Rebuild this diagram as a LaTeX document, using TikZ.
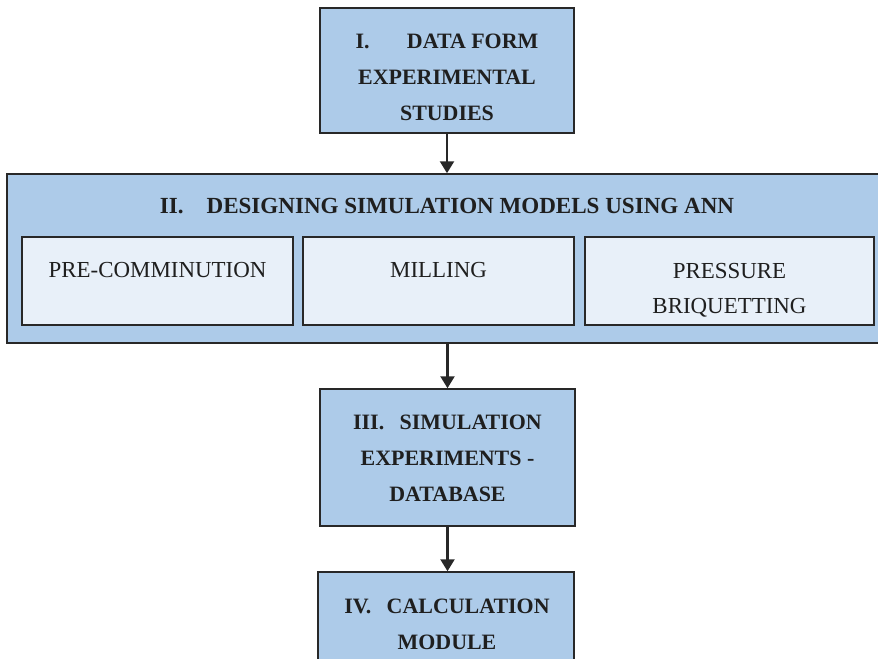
\documentclass[tikz,border=0pt]{standalone}
\usepackage{fontspec}
\setmainfont{Liberation Serif}
\usetikzlibrary{arrows.meta}

\definecolor{boxblue}{RGB}{173,203,233}
\definecolor{subblue}{RGB}{232,240,249}
\definecolor{edgegray}{RGB}{40,40,40}

\tikzset{
  stage/.style={draw=edgegray, line width=1.1pt, fill=boxblue, inner sep=0pt},
  substage/.style={draw=edgegray, line width=1.1pt, fill=subblue, inner sep=0pt, minimum height=2.2cm},
  stagetext/.style={align=center, inner sep=0pt, text=black!88, font=\fontsize{15.6}{25.6}\selectfont\bfseries},
  subtext/.style={align=center, inner sep=0pt, text=black!88, font=\fontsize{16.3}{24.9}\selectfont},
  flow/.style={-{Triangle[width=10pt,length=8.5pt]}, line width=1.5pt, draw=edgegray}
}

\begin{document}
\begin{tikzpicture}[x=0.025cm, y=-0.025cm]
    \useasboundingbox (0,0) rectangle (878,658);
    \clip (0,0) rectangle (878,658);

    % Stage I
    \node[stage, minimum width=6.35cm, minimum height=3.125cm] (data) at (447,70.5) {};
    \node[stagetext] (dataT) at (447,77) {I.\hspace{1.7em}DATA FORM\\EXPERIMENTAL\\STUDIES};

    % Stage II with its three sub-models
    \node[stage, minimum width=22.5cm, minimum height=4.225cm] (design) at (457,258.5) {};
    \node[stagetext, font=\fontsize{16.4}{25}\selectfont\bfseries] (designT) at (447,206)
        {II.\hspace{1em}DESIGNING SIMULATION MODELS USING ANN};
    \node[substage, minimum width=6.775cm] (precom) at (157.5,281) {};
    \node[substage, minimum width=6.775cm] (mill) at (438.5,281) {};
    \node[substage, minimum width=7.225cm] (brik) at (729.5,281) {};
    \node[subtext] (precomT) at (157.5,270) {PRE-COMMINUTION};
    \node[subtext] (millT) at (438.5,270) {MILLING};
    \node[subtext] (brikT) at (729.5,290) {PRESSURE\\BRIQUETTING};

    % Stages III and IV
    \node[stage, minimum width=6.375cm, minimum height=3.425cm] (sim) at (447.5,457.5) {};
    \node[stagetext] (simT) at (447.5,458) {III.\hspace{0.7em}SIMULATION\\EXPERIMENTS -\\DATABASE};
    \node[stage, minimum width=6.4cm, minimum height=3.45cm] (calc) at (446,641) {};
    \node[stagetext] (calcT) at (447,624) {IV.\hspace{0.7em}CALCULATION\\MODULE};

    % Connectors
    \draw[flow] (data.south) -- (data.south |- design.north);
    \draw[flow] (sim.north |- design.south) -- (sim.north);
    \draw[flow] (sim.south) -- (sim.south |- calc.north);

\end{tikzpicture}
\end{document}
